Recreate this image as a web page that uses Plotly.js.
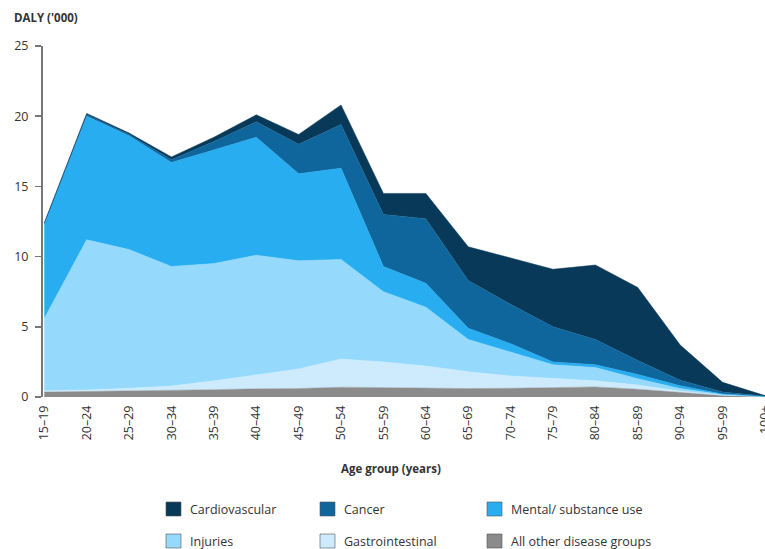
<!DOCTYPE html>
<html>
<head>
<meta charset="utf-8">
<script src="https://cdn.plot.ly/plotly-3.0.1.min.js"></script>
<style>html,body{margin:0;padding:0;background:#fff;}#chart{width:765px;height:549px;}</style>
</head>
<body>
<div id="chart"></div>
<script>
const ageGroups = ["15–19","20–24","25–29","30–34","35–39","40–44","45–49","50–54","55–59","60–64","65–69","70–74","75–79","80–84","85–89","90–94","95–99","100+"];
const otherGroups      = [0.35,0.38,0.42,0.48,0.52,0.58,0.60,0.70,0.65,0.62,0.60,0.62,0.68,0.72,0.55,0.30,0.10,0.02];
const gastrointestinal = [0.10,0.12,0.20,0.30,0.63,1.02,1.40,2.00,1.85,1.58,1.20,0.88,0.62,0.43,0.30,0.12,0.03,0.01];
const injuries         = [5.15,10.70,9.88,8.52,8.35,8.50,7.70,7.10,5.00,4.20,2.30,1.70,1.00,0.95,0.45,0.18,0.04,0.01];
const mentalSubstance  = [6.70,8.80,8.10,7.40,8.10,8.40,6.20,6.50,1.80,1.70,0.80,0.60,0.20,0.20,0.30,0.20,0.05,0.01];
const cancer           = [0.05,0.10,0.10,0.20,0.60,1.10,2.10,3.10,3.70,4.60,3.40,2.80,2.50,1.80,1.00,0.40,0.13,0.02];
const cardiovascular   = [0.05,0.10,0.10,0.20,0.30,0.50,0.70,1.40,1.50,1.80,2.40,3.30,4.10,5.30,5.20,2.50,0.70,0.03];
const yTicks = [0,5,10,15,20,25];

const series = [
  {name:"All other disease groups", y:otherGroups, color:"#8b8b8b"},
  {name:"Gastrointestinal", y:gastrointestinal, color:"#cdebfc"},
  {name:"Injuries", y:injuries, color:"#95dafc"},
  {name:"Mental/ substance use", y:mentalSubstance, color:"#27adf0"},
  {name:"Cancer", y:cancer, color:"#0e669d"},
  {name:"Cardiovascular", y:cardiovascular, color:"#083958"}
];

const traces = series.map(s => ({
  type:"scatter", mode:"lines", x:ageGroups, y:s.y, name:s.name,
  stackgroup:"one", fillcolor:s.color, line:{color:s.color, width:0.5},
  showlegend:false, hoverinfo:"skip"
}));

const L = 43, R = 0, T = 46, B = 152, WIDTH = 765, HEIGHT = 549;
const PW = WIDTH - L - R, PH = HEIGHT - T - B;
const px = x => (x - L) / PW;
const py = y => (HEIGHT - B - y) / PH;

const legendRows = [
  [["Cardiovascular","#083958"],["Cancer","#0e669d"],["Mental/ substance use","#27adf0"]],
  [["Injuries","#95dafc"],["Gastrointestinal","#cdebfc"],["All other disease groups","#8b8b8b"]]
];
const colX = [166, 320, 487];
const rowY = [509, 541];
const shapes = [], annotations = [];
legendRows.forEach((row, r) => row.forEach((item, c) => {
  shapes.push({type:"rect", xref:"paper", yref:"paper",
    x0:px(colX[c]), x1:px(colX[c]+15), y0:py(rowY[r]+7), y1:py(rowY[r]-7),
    fillcolor:item[1], line:{color:"#555", width:0.6}});
  annotations.push({xref:"paper", yref:"paper", x:px(colX[c]+22), y:py(rowY[r]),
    xanchor:"left", yanchor:"middle", showarrow:false, text:item[0],
    font:{family:"Open Sans, sans-serif", size:12.5, color:"#333"}});
}));
annotations.push({xref:"paper", yref:"paper", x:px(12), y:py(18), xanchor:"left", yanchor:"middle",
  showarrow:false, text:"<b>DALY ('000)</b>", font:{family:"Open Sans, sans-serif", size:11.5, color:"#333"}});
annotations.push({xref:"paper", yref:"paper", x:px(391), y:py(468), xanchor:"center", yanchor:"middle",
  showarrow:false, text:"<b>Age group (years)</b>", font:{family:"Open Sans, sans-serif", size:11.5, color:"#333"}});

const layout = {
  width:WIDTH, height:HEIGHT,
  margin:{l:L, r:R, t:T, b:B},
  paper_bgcolor:"#fff", plot_bgcolor:"#fff",
  showlegend:false,
  font:{family:"Open Sans, sans-serif", size:12, color:"#333"},
  xaxis:{type:"category", range:[-0.03, 17.0], showgrid:false, zeroline:false,
    showline:false, ticks:"", tickangle:-90, ticklabelstandoff:5, tickfont:{size:12.5, color:"#333"}, fixedrange:true},
  yaxis:{range:[0,25], tickvals:yTicks, ticktext:yTicks.map(String), showgrid:false, zeroline:false,
    showline:true, linecolor:"#777", linewidth:2, ticks:"outside", ticklen:6, tickcolor:"#777",
    tickwidth:1.5, ticklabelstandoff:4, tickfont:{size:12.5, color:"#333"}, fixedrange:true},
  shapes:shapes, annotations:annotations
};

Plotly.newPlot("chart", traces, layout, {displayModeBar:false, staticPlot:true});
</script>
</body>
</html>
